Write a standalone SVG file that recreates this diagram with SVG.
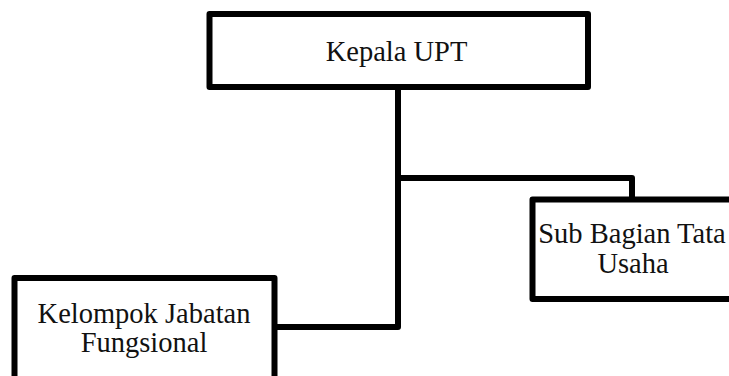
<svg xmlns="http://www.w3.org/2000/svg" width="729" height="376" viewBox="0 0 729 376">
<style>
.box{fill:#fff;stroke:#000;stroke-width:6;stroke-linejoin:round}
.t{font-family:"Liberation Serif","Times New Roman",serif;font-size:28.5px;fill:#111;text-anchor:middle}
.c{fill:none;stroke:#000;stroke-width:6;stroke-linejoin:round}
</style>
<rect width="729" height="376" fill="#fff"/>
<g id="connectors">
<path class="c" d="M398 87 V327 H274"/>
<path class="c" d="M398 178 H632 V199"/>
</g>
<g id="kepala">
<rect class="box" x="209.5" y="14" width="378.5" height="73"/>
<text class="t" x="396.5" y="61">Kepala UPT</text>
</g>
<g id="subbagian">
<rect class="box" x="532.5" y="199.5" width="210" height="99.5"/>
<text class="t" x="632" y="243">Sub Bagian Tata</text>
<text class="t" x="633" y="273">Usaha</text>
</g>
<g id="kelompok">
<rect class="box" x="14.5" y="278" width="260" height="120"/>
<text class="t" x="144" y="323">Kelompok Jabatan</text>
<text class="t" x="144" y="352">Fungsional</text>
</g>
</svg>
